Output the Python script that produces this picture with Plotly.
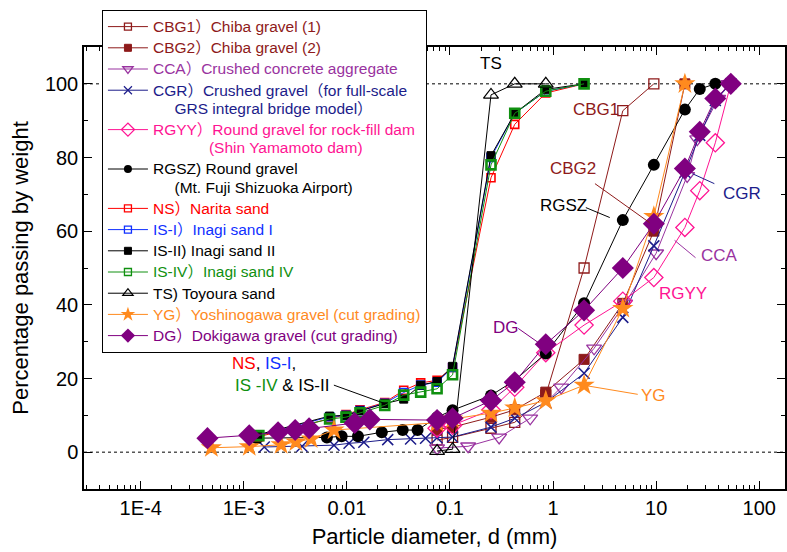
import math
import plotly.graph_objects as go

# ---------------- grading data: diameter d (mm) and percentage passing (%) ----------------
cbg1_d = [0.075, 0.106, 0.25, 0.425, 0.85, 2.0, 4.75, 9.5]
cbg1_p = [3.3, 4.0, 6.5, 8.1, 15.5, 50.0, 92.7, 100.0]

cbg2_d = [0.075, 0.106, 0.25, 0.425, 0.85, 2.0, 4.75, 9.5, 19.0]
cbg2_p = [6.2, 6.8, 9.5, 11.5, 16.3, 25.2, 40.4, 60.0, 100.0]

cca_d = [0.075, 0.15, 0.3, 0.6, 1.2, 2.5, 5.0, 10.0, 20.0, 25.0, 40.0, 50.0]
cca_p = [1.1, 1.6, 4.0, 9.2, 17.6, 28.2, 40.4, 54.0, 75.0, 85.0, 96.0, 100.0]

cgr_d = [0.00158, 0.00367, 0.0075, 0.0105, 0.0146, 0.0249, 0.0415, 0.058, 0.075, 0.106,
         0.25, 0.425, 0.85, 2.0, 4.75, 9.5, 19.0, 26.5, 37.5, 53.0]
cgr_p = [1.4, 1.6, 1.9, 2.4, 2.7, 3.4, 3.6, 3.8, 3.9, 4.1,
         6.8, 9.2, 13.5, 21.4, 36.6, 56.0, 76.0, 86.0, 95.5, 100.0]

rgyy_d = [0.075, 0.106, 0.25, 0.425, 0.85, 2.0, 4.75, 9.5, 19.0, 26.5, 37.5, 53.0]
rgyy_p = [6.5, 7.3, 11.5, 17.6, 27.0, 34.5, 41.0, 47.4, 61.0, 71.0, 84.0, 100.0]

rgsz_d = [0.00135, 0.0064, 0.0089, 0.0128, 0.0218, 0.0348, 0.0485, 0.075, 0.106,
          0.25, 0.425, 0.85, 2.0, 4.75, 9.5, 19.0, 26.5, 37.5]
rgsz_p = [3.8, 4.0, 4.3, 4.3, 5.4, 6.0, 6.0, 9.5, 11.4,
          15.4, 19.5, 26.8, 40.4, 63.0, 78.0, 93.0, 98.6, 100.0]

sand_d = [0.0014, 0.0068, 0.0098, 0.0134, 0.0233, 0.0356, 0.052, 0.075, 0.106,
          0.25, 0.425, 0.85, 2.0]
ns_p = [4.2, 9.2, 10.2, 11.5, 13.5, 16.8, 18.8, 19.5, 23.0, 74.5, 89.0, 97.5, 100.0]
is1_p = [4.6, 9.6, 10.0, 11.3, 13.3, 16.2, 18.2, 19.0, 23.0, 80.0, 92.0, 98.0, 100.0]
is2_p = [4.8, 9.8, 10.0, 11.2, 13.2, 14.4, 18.2, 19.2, 23.3, 80.5, 92.0, 98.5, 100.0]
is4_p = [4.5, 9.0, 9.5, 10.7, 12.7, 15.5, 16.3, 17.2, 21.0, 78.0, 92.0, 98.0, 100.0]

ts_d = [0.075, 0.106, 0.25, 0.425, 0.85]
ts_p = [0.3, 0.8, 97.0, 100.0, 100.0]

yg_d = [0.000485, 0.00113, 0.0023, 0.0032, 0.0045, 0.0075, 0.075, 0.106,
        0.25, 0.425, 0.85, 2.0, 4.75, 9.5, 19.0]
yg_p = [1.2, 1.5, 2.0, 2.8, 3.6, 6.0, 8.0, 9.0,
        10.6, 12.0, 14.0, 18.2, 39.0, 64.0, 100.0]

dg_d = [0.000444, 0.00113, 0.00215, 0.00315, 0.0043, 0.0119, 0.0167, 0.075, 0.106,
        0.25, 0.425, 0.85, 2.0, 4.75, 9.5, 19.0, 26.5, 37.5, 53.0]
dg_p = [3.8, 4.6, 5.4, 6.0, 6.5, 7.9, 8.9, 8.7, 9.2,
        14.0, 19.0, 29.3, 38.5, 50.0, 62.0, 77.0, 87.0, 96.0, 100.0]

x_tick_vals = [1e-4, 1e-3, 1e-2, 1e-1, 1, 10, 100]
x_tick_text = ["1E-4", "1E-3", "0.01", "0.1", "1", "10", "100"]
y_tick_vals = [0, 20, 40, 60, 80, 100]

# ---------------- colours ----------------
MAROON = "#8E1A1A"
PURPLE_L = "#9933A0"
NAVY = "#1C1C8A"
PINK = "#FF1493"
RED = "#FF0000"
BLUE = "#1030FF"
GREEN = "#109010"
ORANGE = "#FF8A1E"
PURPLE = "#800080"
BLACK = "#000000"

FONT = "Liberation Sans, Arial, Noto Sans CJK JP, sans-serif"
NB = "\u00a0"


def span(text, color, size=None):
    style = f"color:{color}"
    if size:
        style += f";font-size:{size}px"
    return f'<span style="{style}">{text}</span>'


def entry(color, *lines):
    # legend text: coloured lines in a slightly larger face than the row pitch
    return "<br>".join(span(t, color, 15.5) for t in lines)


# (name, x, y, colour, symbol, plot size, legend size, marker fill, marker line width)
series = [
    (entry(MAROON, "CBG1）Chiba gravel (1)"), cbg1_d, cbg1_p, MAROON, "square-open", 10, 7, None, 1.3),
    (entry(MAROON, "CBG2）Chiba gravel (2)"), cbg2_d, cbg2_p, MAROON, "square", 10, 7, MAROON, 1),
    (entry(PURPLE_L, "CCA）Crushed concrete aggregate"), cca_d, cca_p, PURPLE_L, "triangle-down-open", 13, 9, None, 1.3),
    (entry(NAVY, "CGR）Crushed gravel（for full-scale", NB * 5 + "GRS integral bridge model）"),
     cgr_d, cgr_p, NAVY, "x-thin", 11, 8, None, 1.5),
    (entry(PINK, "RGYY）Round gravel for rock-fill dam", NB * 13 + "(Shin Yamamoto dam)"),
     rgyy_d, rgyy_p, PINK, "diamond-open", 14, 10, None, 1.3),
    (entry(BLACK, "RGSZ) Round gravel", NB * 5 + "(Mt. Fuji Shizuoka Airport)"),
     rgsz_d, rgsz_p, BLACK, "circle", 12, 8, BLACK, 0),
    (entry(RED, "NS）Narita sand"), sand_d, ns_p, RED, "square-open", 8, 7, None, 1.6),
    (entry(BLUE, "IS-I）Inagi sand I"), sand_d, is1_p, BLUE, "square-open", 8, 7, None, 1.6),
    (entry(BLACK, "IS-II) Inagi sand II"), sand_d, is2_p, BLACK, "square", 8, 7, BLACK, 1),
    (entry(GREEN, "IS-IV）Inagi sand IV"), sand_d, is4_p, GREEN, "square-open", 9, 7, None, 2.6),
    (entry(BLACK, "TS) Toyoura sand"), ts_d, ts_p, BLACK, "triangle-up-open", 13, 9, None, 1.2),
    (entry(ORANGE, "YG）Yoshinogawa gravel (cut grading)"), yg_d, yg_p, ORANGE, "star", 16, 11, ORANGE, 0),
    (entry(PURPLE, "DG）Dokigawa gravel (cut grading)"), dg_d, dg_p, PURPLE, "diamond", 17, 11, PURPLE, 0),
]

fig = go.Figure()

for name, xs, ys, col, sym, size, lsize, fill, lw in series:
    marker = dict(symbol=sym, size=size, color=fill if fill else col,
                  line=dict(color=col, width=lw))
    if sym == "x-thin":
        marker = dict(symbol=sym, size=size, line=dict(color=col, width=lw))
    fig.add_trace(go.Scatter(
        x=xs, y=ys, mode="lines+markers", showlegend=False,
        line=dict(color=col, width=1), marker=marker, hoverinfo="skip"))

# legend entries with compact symbols
for name, xs, ys, col, sym, size, lsize, fill, lw in series:
    marker = dict(symbol=sym, size=lsize, color=fill if fill else col,
                  line=dict(color=col, width=min(lw, 1.3) if lw else 0))
    if sym == "x-thin":
        marker = dict(symbol=sym, size=lsize, line=dict(color=col, width=1.2))
    fig.add_trace(go.Scatter(
        x=[None], y=[None], mode="lines+markers", name=name,
        line=dict(color=col, width=1), marker=marker))

# dotted reference lines at 0 % and 100 %
for yv in (0, 100):
    fig.add_shape(type="line", xref="paper", x0=0, x1=1, yref="y", y0=yv, y1=yv,
                  line=dict(color="black", width=1, dash="dot"), layer="below")

L = math.log10

# leader lines from labels to curves: ((d0, p0), (d1, p1), colour)
leaders = [
    ((2.55, 72.9), (8.65, 62.3), MAROON),
    ((2.08, 66.4), (3.55, 63.7), BLACK),
    ((22.5, 75.6), (36.7, 72.9), NAVY),
    ((15.1, 57.5), (24.1, 52.8), PURPLE_L),
    ((0.459, 33.6), (0.716, 29.8), PURPLE),
    ((1.95, 18.2), (6.63, 15.7), ORANGE),
    ((0.00748, 18.2), (0.0228, 13.3), BLACK),
]
for (d0, p0), (d1, p1), col in leaders:
    fig.add_shape(type="line", xref="x", yref="y", x0=d0, y0=p0, x1=d1, y1=p1,
                  line=dict(color=col, width=1))

labels = [
    ("TS", 0.252, 105.4, BLACK),
    ("CBG1", 2.6, 93.0, MAROON),
    ("CBG2", 1.56, 77.0, MAROON),
    ("RGSZ", 1.25, 67.0, BLACK),
    ("CGR", 68.5, 70.2, NAVY),
    ("CCA", 41.0, 53.4, PURPLE_L),
    ("RGYY", 18.4, 43.0, PINK),
    ("DG", 0.35, 33.9, PURPLE),
    ("YG", 9.46, 15.4, ORANGE),
]
for txt, d, p, col in labels:
    fig.add_annotation(x=L(d), y=p, xref="x", yref="y", text=txt, showarrow=False,
                       font=dict(family=FONT, size=17, color=col), xanchor="center")

fig.add_annotation(x=L(0.000735), y=24.2, xref="x", yref="y", showarrow=False, xanchor="left",
                   text=span("NS", RED) + ", " + span("IS-I", BLUE) + ",",
                   font=dict(family=FONT, size=17, color=BLACK))
fig.add_annotation(x=L(0.00079), y=18.0, xref="x", yref="y", showarrow=False, xanchor="left",
                   text=span("IS -IV", GREEN) + " & IS-II",
                   font=dict(family=FONT, size=17, color=BLACK))

minor_x = [m * 10 ** e for e in range(-5, 3) for m in range(2, 10)]

fig.update_layout(
    width=787, height=552,
    margin=dict(l=84, r=0, t=47, b=63),
    paper_bgcolor="white", plot_bgcolor="white",
    font=dict(family=FONT, size=20, color="black"),
    xaxis=dict(
        type="log", range=[-4.55, 2.25],
        tickmode="array", tickvals=x_tick_vals, ticktext=x_tick_text,
        ticks="inside", ticklen=8, tickwidth=1.2, tickcolor="black",
        minor=dict(tickmode="array", tickvals=minor_x, ticks="inside", ticklen=4,
                   tickwidth=1, tickcolor="black", showgrid=False),
        showline=True, linecolor="black", linewidth=1.5, mirror="ticks",
        showgrid=False, zeroline=False,
        title=dict(text="Particle diameter, d (mm)", font=dict(size=22), standoff=11),
        tickfont=dict(size=20),
    ),
    yaxis=dict(
        range=[-10, 110], tickmode="array", tickvals=y_tick_vals,
        ticks="inside", ticklen=8, tickwidth=1.2, tickcolor="black",
        minor=dict(dtick=10, ticks="inside", ticklen=4, tickwidth=1, tickcolor="black",
                   showgrid=False),
        showline=True, linecolor="black", linewidth=1.5, mirror="ticks",
        showgrid=False, zeroline=False,
        title=dict(text="Percentage passing by weight", font=dict(size=22), standoff=10),
        tickfont=dict(size=20),
    ),
    legend=dict(
        x=0.0256, y=1.0837, xanchor="left", yanchor="top",
        bgcolor="white", bordercolor="black", borderwidth=1,
        font=dict(family=FONT, size=14, color="black"),
        itemwidth=40, valign="top", tracegroupgap=0,
        traceorder="normal", maxheight=520,
    ),
)

fig.write_html("out.html")
